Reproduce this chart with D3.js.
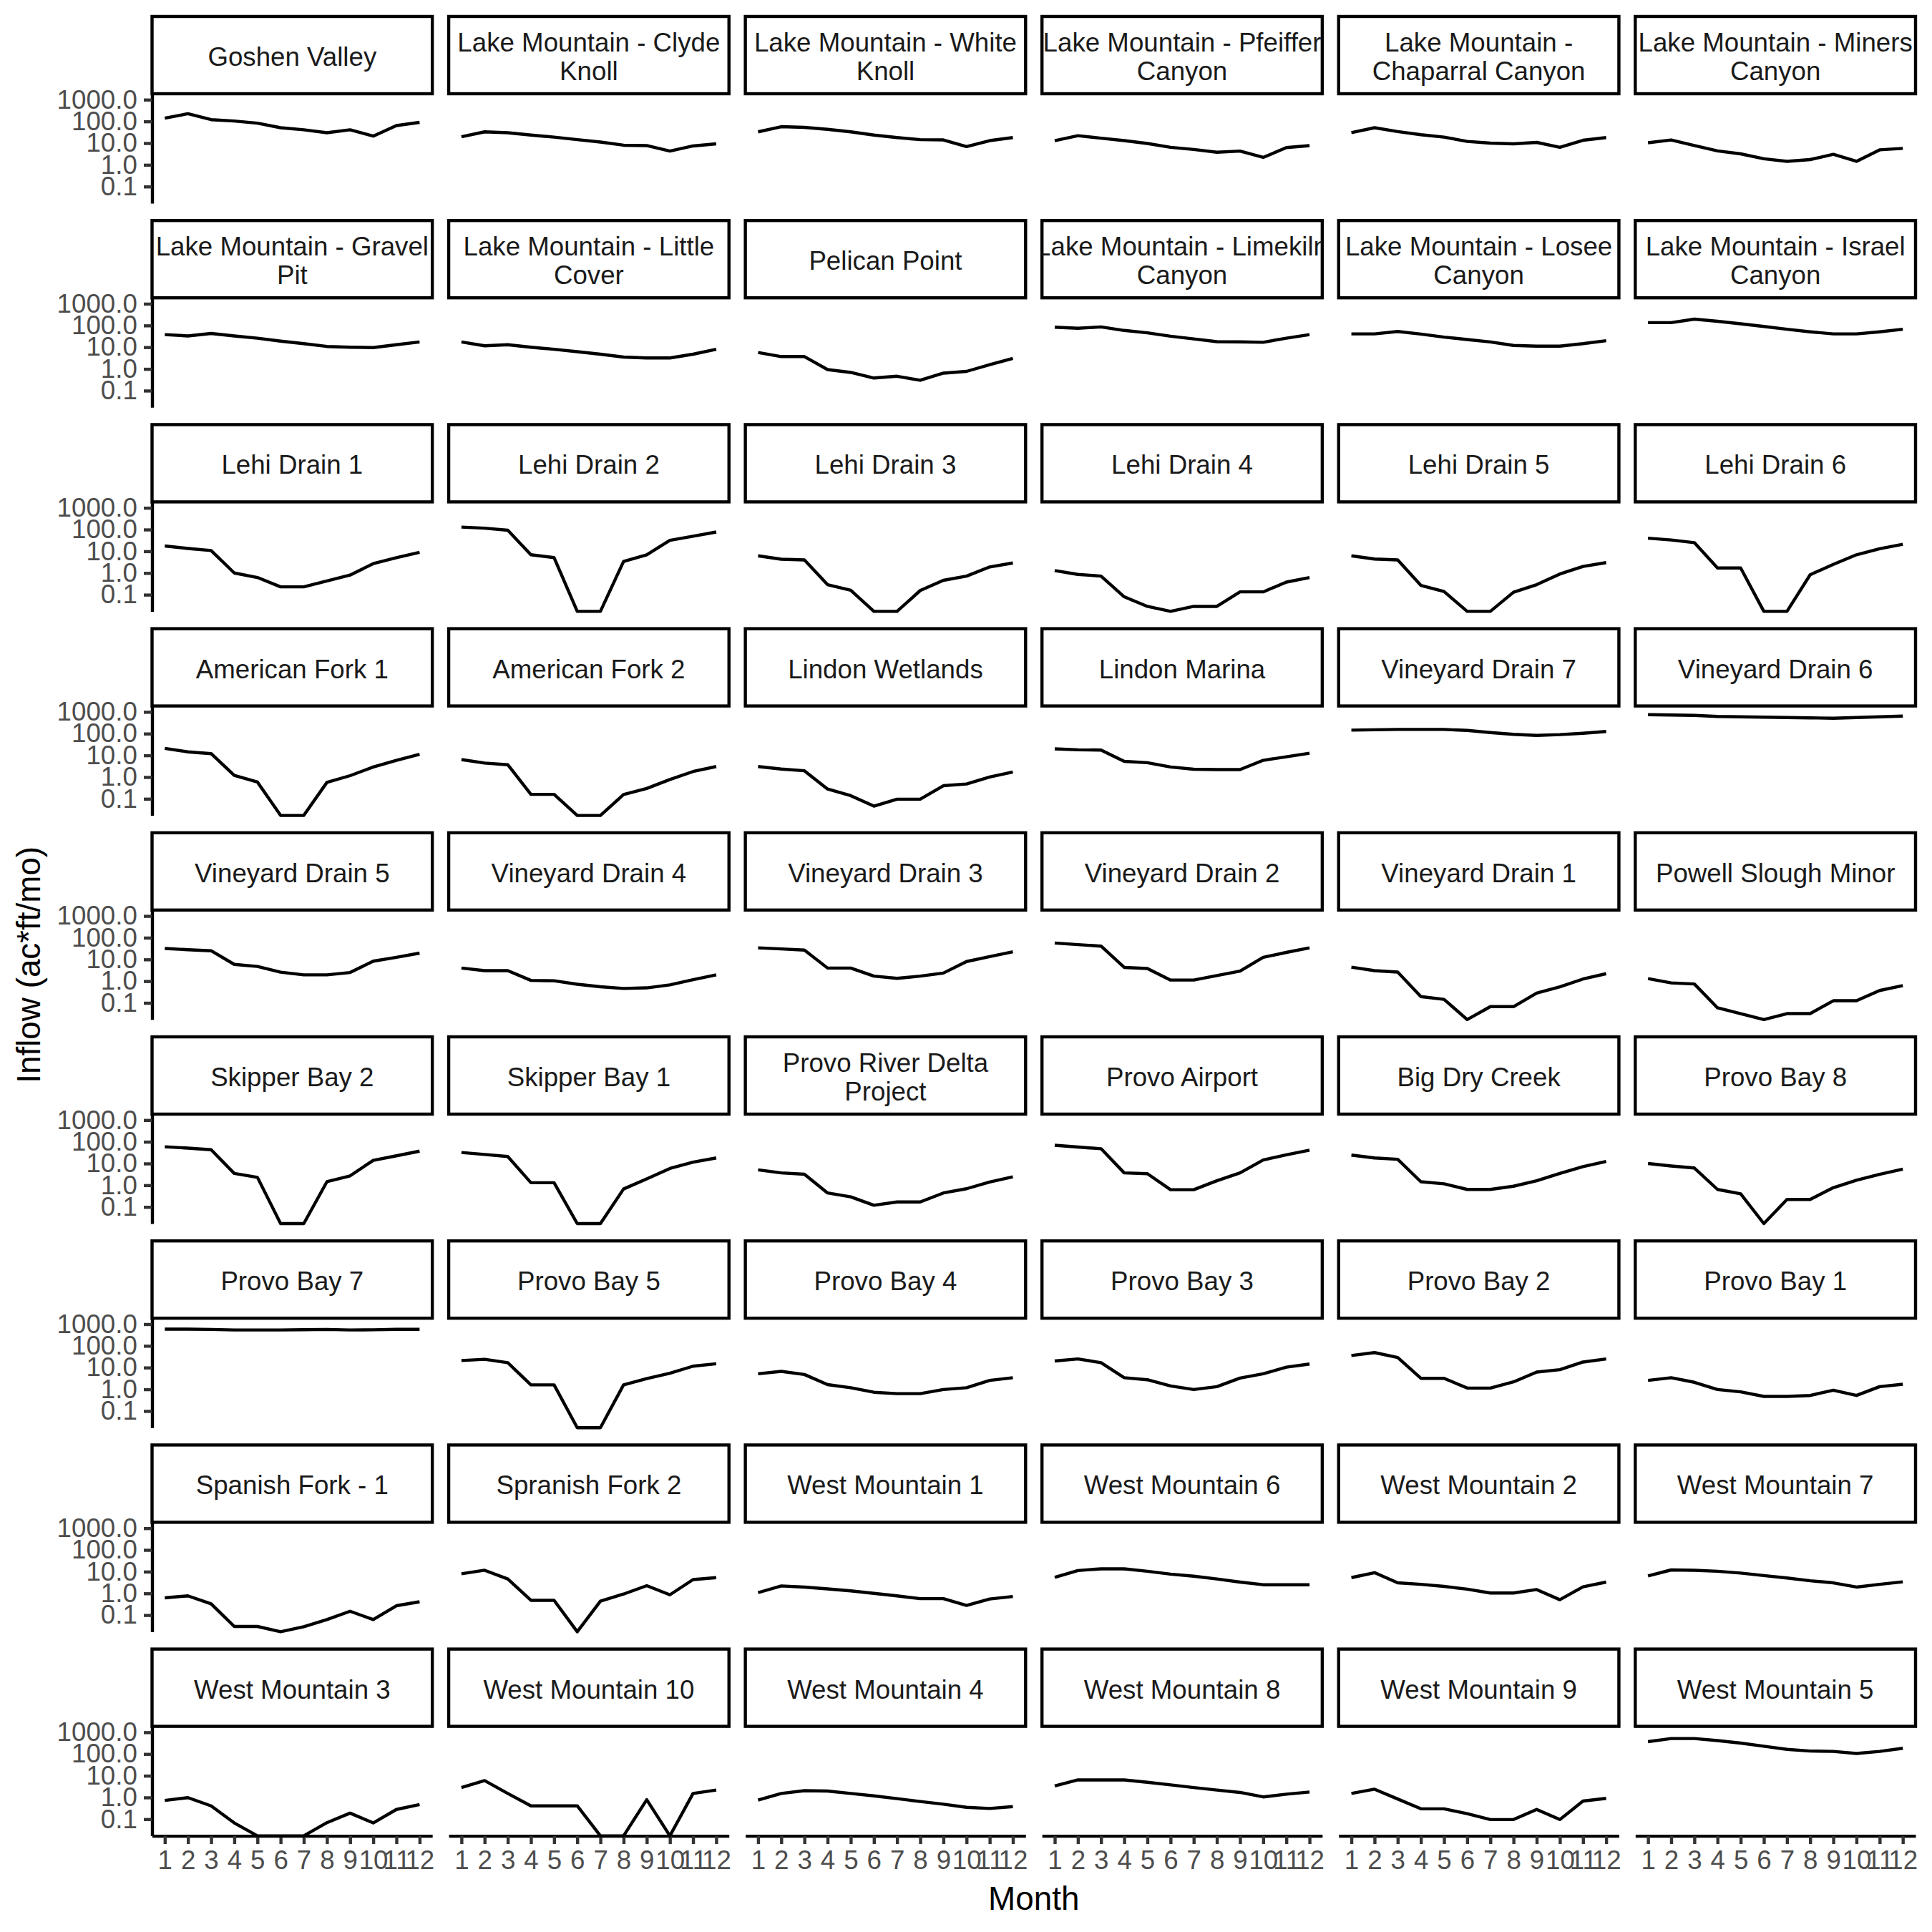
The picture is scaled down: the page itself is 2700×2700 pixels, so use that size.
<!DOCTYPE html>
<html>
<head>
<meta charset="utf-8">
<script src="https://cdn.jsdelivr.net/npm/d3@7"></script>
<style>
  body { margin: 0; background: #ffffff; }
  text { font-family: "Liberation Sans", Arial, Helvetica, sans-serif; }
</style>
</head>
<body>
<svg id="chart" width="2700" height="2700"></svg>
<script>
// ---------------- DATA ----------------
const months = [1, 2, 3, 4, 5, 6, 7, 8, 9, 10, 11, 12];

// facet labels (line breaks as in the strip labels)
const sites = [
  "Goshen Valley", "Lake Mountain - Clyde\nKnoll", "Lake Mountain - White\nKnoll",
  "Lake Mountain - Pfeiffer\nCanyon", "Lake Mountain -\nChaparral Canyon", "Lake Mountain - Miners\nCanyon",
  "Lake Mountain - Gravel\nPit", "Lake Mountain - Little\nCover", "Pelican Point",
  "Lake Mountain - Limekiln\nCanyon", "Lake Mountain - Losee\nCanyon", "Lake Mountain - Israel\nCanyon",
  "Lehi Drain 1", "Lehi Drain 2", "Lehi Drain 3", "Lehi Drain 4", "Lehi Drain 5", "Lehi Drain 6",
  "American Fork 1", "American Fork 2", "Lindon Wetlands", "Lindon Marina", "Vineyard Drain 7", "Vineyard Drain 6",
  "Vineyard Drain 5", "Vineyard Drain 4", "Vineyard Drain 3", "Vineyard Drain 2", "Vineyard Drain 1", "Powell Slough Minor",
  "Skipper Bay 2", "Skipper Bay 1", "Provo River Delta\nProject", "Provo Airport", "Big Dry Creek", "Provo Bay 8",
  "Provo Bay 7", "Provo Bay 5", "Provo Bay 4", "Provo Bay 3", "Provo Bay 2", "Provo Bay 1",
  "Spanish Fork - 1", "Spranish Fork 2", "West Mountain 1", "West Mountain 6", "West Mountain 2", "West Mountain 7",
  "West Mountain 3", "West Mountain 10", "West Mountain 4", "West Mountain 8", "West Mountain 9", "West Mountain 5"
];

// monthly inflow (ac*ft/mo), one list per site, months 1..12 (0 = no inflow)
const inflow = [
  [140, 226, 120, 104, 83, 51, 41, 30, 41, 21, 64, 90],
  [19.5, 33, 30, 23.5, 18.8, 14.5, 11.2, 8.0, 7.7, 4.3, 7.4, 9.3],
  [33, 57, 53, 43, 33, 23.5, 18, 14.5, 14, 6.9, 13, 18],
  [13, 22, 16.8, 13, 9.6, 6.4, 5.1, 3.8, 4.3, 2.2, 6.2, 7.7],
  [30.5, 51, 34, 24.4, 18.8, 12, 10, 9.3, 10.8, 6.4, 13.5, 18],
  [10.4, 14, 7.7, 4.4, 3.2, 1.9, 1.45, 1.75, 3.05, 1.45, 4.9, 5.7],
  [38, 33, 43, 33, 26, 19, 14.5, 10.8, 10, 9.6, 13, 17.5],
  [17.5, 11.6, 13, 10, 8, 6.2, 4.75, 3.5, 3.2, 3.2, 4.75, 8],
  [5.7, 3.7, 3.7, 0.93, 0.69, 0.38, 0.46, 0.30, 0.64, 0.77, 1.56, 3.05],
  [83, 74, 86, 59, 46, 32, 24, 18, 17.5, 16.8, 26, 38],
  [41, 41, 53, 40, 29, 22.6, 17.5, 12, 11.2, 11.2, 14.5, 20],
  [135, 135, 195, 156, 120, 90, 67, 51, 41, 41, 51, 67],
  [17.5, 13.5, 10.8, 1.0, 0.62, 0.23, 0.23, 0.43, 0.8, 2.7, 5.1, 9],
  [130, 116, 93, 6.9, 5.1, 0, 0, 3.4, 6.9, 32, 49, 77],
  [6.2, 4.3, 4.0, 0.29, 0.16, 0, 0, 0.156, 0.46, 0.72, 1.9, 2.9],
  [1.3, 0.86, 0.72, 0.08, 0.029, 0, 0.029, 0.029, 0.135, 0.135, 0.38, 0.62],
  [6.2, 4.4, 4.0, 0.27, 0.14, 0, 0, 0.13, 0.29, 0.9, 2.0, 3.0],
  [40, 33, 25, 1.7, 1.7, 0, 0, 0.83, 2.5, 6.9, 13, 21],
  [21, 14.5, 12, 1.2, 0.59, 0, 0, 0.57, 1.16, 2.9, 5.9, 11.2],
  [6.4, 4.4, 3.7, 0.16, 0.16, 0, 0, 0.156, 0.30, 0.77, 1.8, 3.05],
  [3.05, 2.35, 1.95, 0.28, 0.14, 0.046, 0.096, 0.096, 0.40, 0.48, 1.0, 1.7],
  [20, 18, 17.5, 5.3, 4.6, 2.9, 2.3, 2.2, 2.2, 5.9, 8.6, 12.5],
  [145, 150, 156, 156, 156, 140, 112, 93, 83, 90, 104, 125],
  [743, 716, 690, 616, 594, 573, 552, 532, 513, 552, 594, 640],
  [32, 28, 25, 5.9, 4.75, 2.6, 1.95, 1.95, 2.5, 8.3, 12.5, 19.5],
  [4.0, 3.05, 3.05, 1.08, 1.04, 0.72, 0.55, 0.46, 0.49, 0.67, 1.16, 1.95],
  [34, 30.5, 27, 4.0, 4.0, 1.7, 1.35, 1.7, 2.35, 8.0, 13.5, 22.6],
  [57, 48, 41, 4.3, 3.8, 1.12, 1.12, 1.8, 2.9, 12.5, 21, 34],
  [4.4, 3.05, 2.6, 0.195, 0.145, 0, 0.067, 0.067, 0.28, 0.55, 1.25, 2.2],
  [1.3, 0.83, 0.74, 0.059, 0.032, 0, 0.032, 0.032, 0.125, 0.125, 0.37, 0.62],
  [59, 51, 43, 3.5, 2.3, 0, 0, 1.45, 2.7, 14, 22.6, 37],
  [32, 26, 21, 1.3, 1.3, 0, 0, 0.67, 1.95, 5.9, 11.6, 18],
  [5.1, 3.7, 3.2, 0.44, 0.29, 0.12, 0.17, 0.17, 0.44, 0.69, 1.4, 2.45],
  [69, 57, 48, 3.7, 3.4, 0.62, 0.62, 1.6, 3.7, 14.5, 25, 41],
  [24.4, 18, 15.6, 1.45, 1.16, 0.64, 0.64, 0.9, 1.6, 3.5, 7.2, 12.5],
  [10, 7.7, 6.2, 0.64, 0.40, 0, 0.22, 0.22, 0.77, 1.7, 3.2, 5.5],
  [590, 590, 570, 540, 540, 540, 555, 570, 540, 550, 575, 575],
  [21, 24, 16.7, 1.6, 1.6, 0, 0, 1.6, 3.1, 5.5, 11.6, 15],
  [5.2, 6.7, 4.8, 1.64, 1.18, 0.73, 0.63, 0.63, 0.98, 1.18, 2.56, 3.4],
  [20, 25, 16.7, 3.4, 2.75, 1.42, 0.98, 1.32, 3.3, 5.2, 10.4, 14.5],
  [36, 49, 29, 3.2, 3.2, 1.14, 1.14, 2.2, 6.2, 8.0, 18, 25],
  [2.56, 3.4, 2.1, 0.98, 0.76, 0.47, 0.47, 0.52, 0.91, 0.52, 1.32, 1.7],
  [0.62, 0.77, 0.33, 0.030, 0.030, 0, 0.029, 0.062, 0.15, 0.062, 0.27, 0.41],
  [8.0, 11.6, 4.6, 0.48, 0.48, 0, 0.44, 0.93, 2.26, 0.86, 4.3, 5.3],
  [1.08, 2.2, 1.95, 1.6, 1.3, 1.0, 0.77, 0.57, 0.57, 0.28, 0.55, 0.72],
  [5.5, 11.2, 13.5, 13.5, 10.4, 7.7, 6.2, 4.6, 3.3, 2.5, 2.5, 2.5],
  [5.3, 9.0, 3.05, 2.6, 2.1, 1.56, 1.04, 1.04, 1.5, 0.51, 2.0, 3.3],
  [6.4, 12, 11.6, 10.4, 8.6, 6.6, 5.1, 3.8, 3.05, 1.95, 2.6, 3.4],
  [0.73, 0.98, 0.41, 0.067, 0, 0, 0, 0.069, 0.19, 0.067, 0.28, 0.47],
  [2.86, 6.0, 1.53, 0.41, 0.41, 0.41, 0, 0, 0.79, 0, 1.53, 2.2],
  [0.76, 1.53, 2.05, 1.98, 1.53, 1.18, 0.88, 0.65, 0.49, 0.35, 0.31, 0.38],
  [3.4, 6.4, 6.4, 6.4, 5.0, 3.8, 2.86, 2.2, 1.7, 1.06, 1.42, 1.77],
  [1.53, 2.4, 0.85, 0.30, 0.30, 0.18, 0.096, 0.096, 0.28, 0.096, 0.68, 0.91],
  [370, 515, 515, 413, 319, 229, 164, 137, 132, 106, 132, 184]
];

const yTicks = [0.1, 1, 10, 100, 1000];
const yTickLabels = ["0.1", "1.0", "10.0", "100.0", "1000.0"];
const xTitle = "Month";
const yTitle = "Inflow (ac*ft/mo)";

// ---------------- LAYOUT ----------------
const nCols = 6, nRows = 9;
const plotLeft = 212.5, plotRight = 2677;
const gap = 22.9;
const panelW = (plotRight - plotLeft - (nCols - 1) * gap) / nCols;
const stripTop0 = 23, stripH = 108, panelH = 153, rowStep = 285.2;
const fontSmall = 36.7, fontTitle = 45.8;
const lw = 4.4;

const svg = d3.select("#chart");
svg.append("rect").attr("width", 2700).attr("height", 2700).attr("fill", "#ffffff");

const x = d3.scaleLinear().domain([0.45, 12.55]).range([0, panelW]);
const y = d3.scaleLog().domain([0.0171, 1875]).range([panelH, 0]).clamp(true);

const line = d3.line()
  .x(d => x(d.m))
  .y(d => y(d.v));

const defs = svg.append("defs");
defs.append("clipPath").attr("id", "stripClip")
  .append("rect").attr("x", 0).attr("y", 0).attr("width", panelW).attr("height", stripH);

sites.forEach((label, i) => {
  const r = Math.floor(i / nCols), c = i % nCols;
  const px = plotLeft + c * (panelW + gap);
  const sy = stripTop0 + r * rowStep;
  const py = sy + stripH;

  // strip
  const sg = svg.append("g").attr("transform", `translate(${px},${sy})`);
  sg.append("rect")
    .attr("x", 0).attr("y", 0).attr("width", panelW).attr("height", stripH)
    .attr("fill", "#ffffff").attr("stroke", "#000000").attr("stroke-width", lw);
  const lines = label.split("\n");
  const txt = sg.append("text")
    .attr("clip-path", "url(#stripClip)")
    .attr("text-anchor", "middle")
    .attr("font-size", fontSmall)
    .attr("fill", "#1A1A1A");
  const lh = 40;
  const base0 = stripH / 2 + 15 - (lines.length - 1) * lh / 2;
  lines.forEach((t, k) => {
    txt.append("tspan").attr("x", panelW / 2).attr("y", base0 + k * lh).text(t);
  });

  // panel
  const pg = svg.append("g").attr("transform", `translate(${px},${py})`);

  if (c === 0) {
    const ya = pg.append("g")
      .call(d3.axisLeft(y).tickValues(yTicks).tickFormat(d => yTickLabels[yTicks.indexOf(d)])
        .tickSizeOuter(0).tickSizeInner(11.5).tickPadding(9.2));
    ya.select(".domain").attr("stroke", "#000000").attr("stroke-width", lw);
    ya.selectAll(".tick line").attr("stroke", "#333333").attr("stroke-width", lw);
    ya.selectAll(".tick text").attr("fill", "#4D4D4D").attr("font-size", fontSmall)
      .attr("font-family", "Liberation Sans, Arial, sans-serif");
  }
  if (r === nRows - 1) {
    const xa = pg.append("g").attr("transform", `translate(0,${panelH})`)
      .call(d3.axisBottom(x).tickValues(months).tickFormat(d => String(d))
        .tickSizeOuter(0).tickSizeInner(11.5).tickPadding(9.2));
    xa.select(".domain").attr("stroke", "#000000").attr("stroke-width", lw);
    xa.selectAll(".tick line").attr("stroke", "#333333").attr("stroke-width", lw);
    xa.selectAll(".tick text").attr("fill", "#4D4D4D").attr("font-size", fontSmall)
      .attr("font-family", "Liberation Sans, Arial, sans-serif");
  }

  const pts = months.map((m, k) => ({ m: m, v: inflow[i][k] }));
  pg.append("path")
    .datum(pts)
    .attr("d", line)
    .attr("fill", "none")
    .attr("stroke", "#000000")
    .attr("stroke-width", lw)
    .attr("stroke-linejoin", "round")
    .attr("stroke-linecap", "butt");
});

// axis titles
const panelsTop = stripTop0 + stripH;
const panelsBottom = stripTop0 + (nRows - 1) * rowStep + stripH + panelH;
svg.append("text")
  .attr("x", (plotLeft + plotRight) / 2)
  .attr("y", 2669)
  .attr("text-anchor", "middle")
  .attr("font-size", fontTitle)
  .attr("fill", "#000000")
  .text(xTitle);

svg.append("text")
  .attr("transform", `translate(56,${(panelsTop + panelsBottom) / 2}) rotate(-90)`)
  .attr("text-anchor", "middle")
  .attr("font-size", fontTitle)
  .attr("fill", "#000000")
  .text(yTitle);
</script>
</body>
</html>
